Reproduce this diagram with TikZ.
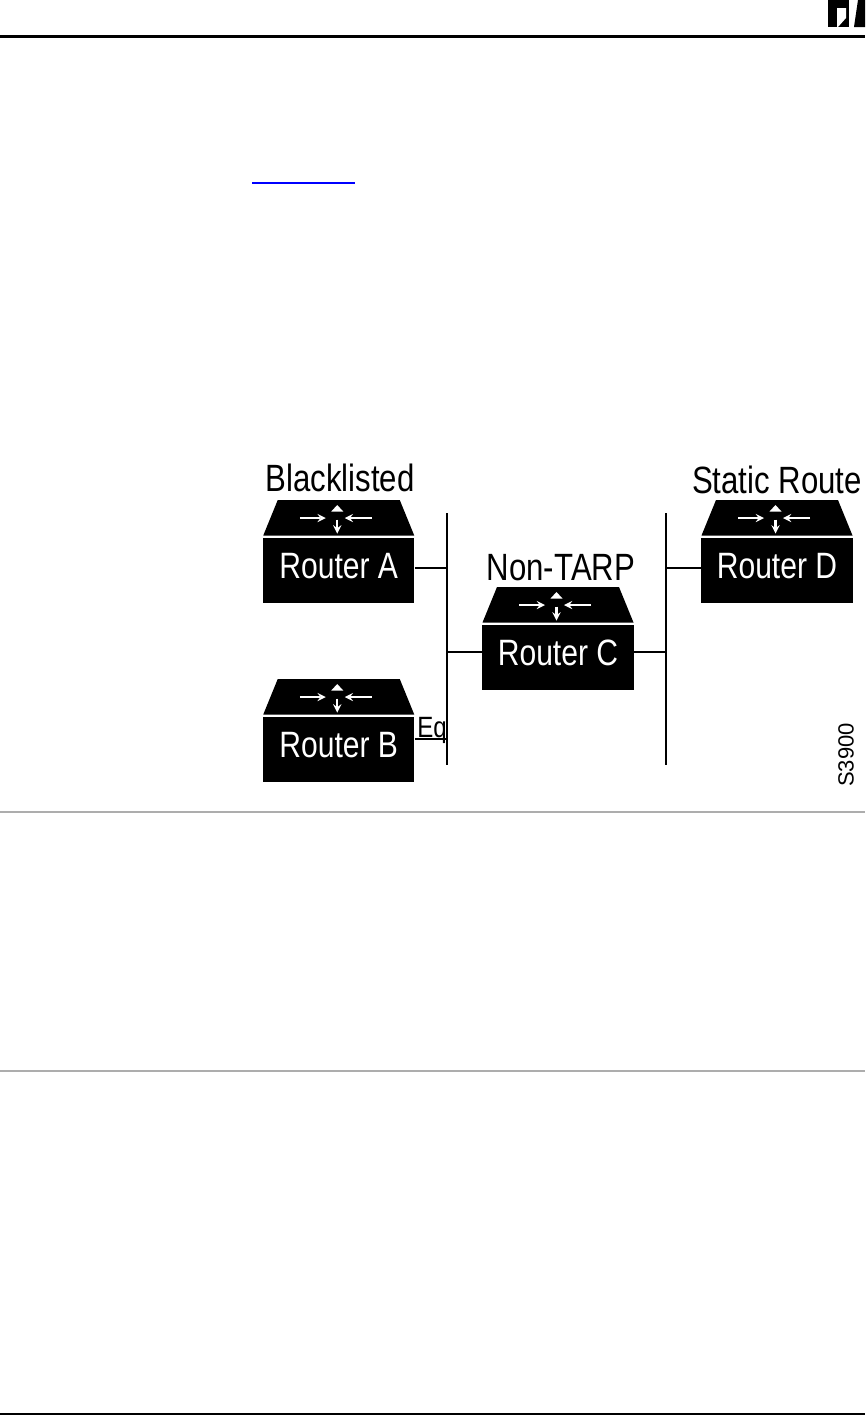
\documentclass[tikz,border=0pt]{standalone}
\usepackage{fontspec}
\setmainfont{Liberation Sans}
\newfontfamily\narrowfont[FakeStretch=0.82]{Liberation Sans}
\tikzset{
  routerbody/.style={fill=black, text=white, inner sep=0pt, minimum width=113.6pt, minimum height=48.4pt,
    text height=19.5pt, text depth=8pt, font=\narrowfont\fontsize{27.5}{27.5}\selectfont},
  routerlabel/.style={anchor=base, inner sep=0pt, font=\narrowfont\fontsize{28.5}{28.5}\selectfont},
  link/.style={line width=1.5pt},
  hairrule/.style={line width=1.4pt, color=black!32},
  iconarrow/.style={->, white, line width=1.7pt}
}
\begin{document}
\begin{tikzpicture}[>=stealth, x=0.75pt, y=-0.75pt]
  \useasboundingbox (0,0) rectangle (865,1415);
  % page furniture
  \fill (828,0) rectangle (849,27);
  \fill[white] (837,8) -- (846,8) -- (846,18) -- (838,27) -- (837,27) -- cycle;
  \fill (854,27) -- (858,0) -- (865,0) -- (865,27) -- cycle;
  \draw[line width=2.2pt] (0,36.5) -- (865,36.5);
  \draw[line width=1.5pt, blue] (252,182.5) -- (355,182.5);
  \draw[hairrule] (0,812) -- (865,812);
  \draw[hairrule] (0,1071) -- (865,1071);
  \draw[line width=1.5pt] (0,1414.2) -- (865,1414.2);
  % routers
  \foreach \id/\cx/\cy in {A/338.75/570.5, B/338.75/749.5, C/558/657.5, D/777/570.5} {
    \node[routerbody] (router\id) at (\cx,\cy) {Router \id};
    \begin{scope}[shift={(router\id.center)}]
      \fill (-61,-70.5) -- (61,-70.5) -- (75.5,-35) -- (-75.5,-35) -- cycle;
      \draw[iconarrow] (-39,-52.5) -- (-13,-52.5);
      \draw[iconarrow] (33,-52.5) -- (6,-52.5);
      \fill[white] (-1.5,-65.5) -- (4.5,-59) -- (-7.5,-59) -- cycle;
      \draw[iconarrow] (-1.5,-51) -- (-1.5,-37);
    \end{scope}
  }
  % bus lines
  \coordinate (busLtop) at (446.7,513);
  \coordinate (busLbot) at (446.7,765);
  \coordinate (busRtop) at (666.3,513);
  \coordinate (busRbot) at (666.3,765);
  \draw[link] (busLtop) -- (busLbot);
  \draw[link] (busRtop) -- (busRbot);
  % links
  \draw[link] ([yshift=2.2pt]routerA.east) -- ([yshift=2.2pt]routerA.east -| busLtop);
  \draw[link] ([yshift=7.9pt]routerB.east) -- ([yshift=7.9pt]routerB.east -| busLtop);
  \draw[link] ([yshift=4.1pt]routerC.west) -- ([yshift=4.1pt]routerC.west -| busLtop);
  \draw[link] ([yshift=4.1pt]routerC.east) -- ([yshift=4.1pt]routerC.east -| busRtop);
  \draw[link] ([yshift=1.9pt]routerD.west) -- ([yshift=1.9pt]routerD.west -| busRtop);
  % labels
  \node[routerlabel] (labelA) at (340,491) {Blacklisted};
  \node[routerlabel] (labelC) at (561,580) {Non-TARP};
  \node[routerlabel] (labelD) at (777,493) {Static Route};
  \node[anchor=base, inner sep=0pt, font=\narrowfont\fontsize{22}{22}\selectfont] (labelB) at (432,737) {Eq};
  \node[rotate=90, inner sep=0pt, font=\fontsize{16.5}{16.5}\selectfont] (figno) at (846,755) {S3900};
\end{tikzpicture}
\end{document}
